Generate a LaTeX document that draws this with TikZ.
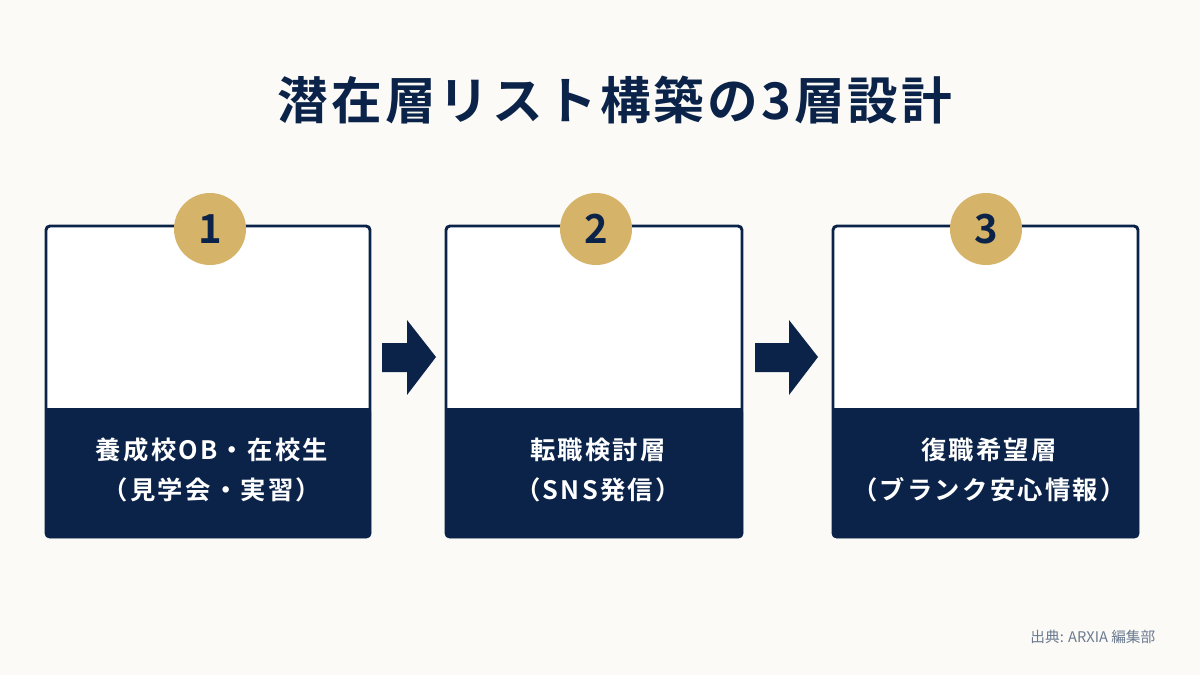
\documentclass[tikz,border=0pt]{standalone}
\usepackage{fontspec}
\setmainfont{Noto Sans CJK JP}
\newfontfamily\jpb{Noto Sans CJK JP Bold}
\newfontfamily\jpbs[LetterSpace=9]{Noto Sans CJK JP Bold}
\newfontfamily\jpbt[LetterSpace=6]{Noto Sans CJK JP Bold}
\definecolor{bg}{HTML}{FBFAF7}
\definecolor{navy}{HTML}{0B2349}
\definecolor{gold}{HTML}{D5B368}
\definecolor{credit}{HTML}{6B7A90}
\begin{document}
\begin{tikzpicture}[x=0.75pt,y=-0.75pt,
  card/.style={draw=navy,line width=2.2pt,fill=white,rounded corners=3pt},
  num/.style={circle,fill=gold,minimum size=72*0.75pt,inner sep=0pt,text=navy,font=\jpb\fontsize{30}{30}\selectfont},
  lbl/.style={text=white,align=center,font=\jpbs\fontsize{19}{30}\selectfont},
  arr/.style={fill=navy}]
\fill[bg] (0,0) rectangle (1200,675);
\useasboundingbox (0,0) rectangle (1200,675);
\node[text=navy,font=\jpbt\fontsize{38}{42}\selectfont] (title) at (615,100) {潜在層リスト構築の3層設計};
\foreach \i/\a/\b/\c in {1/46/370/210,2/446/742/596,3/833/1138/986}{
  \draw[card] (\a,226) rectangle (\b,537);
  \fill[navy,rounded corners=3pt] (\a-1,408) rectangle (\b+1,538);
  \fill[navy] (\a-1,408) rectangle (\b+1,420);
  \node[num] (n\i) at (\c,229) {\i};
}
\node[lbl] (l1) at (212,470) {養成校OB・在校生\\（見学会・実習）};
\node[lbl] (l2) at (598,470) {転職検討層\\（SNS発信）};
\node[lbl] (l3) at (989,470) {復職希望層\\（ブランク安心情報）};
\fill[arr] (382,343) -- (407,343) -- (407,320) -- (436,357) -- (407,395) -- (407,372) -- (382,372) -- cycle;
\fill[arr] (755,343) -- (789,343) -- (789,320) -- (818,357) -- (789,395) -- (789,372) -- (755,372) -- cycle;
\node[anchor=east,text=credit,font=\fontsize{11}{13}\selectfont] (cr) at (1160,637) {出典: ARXIA 編集部};
\end{tikzpicture}
\end{document}
